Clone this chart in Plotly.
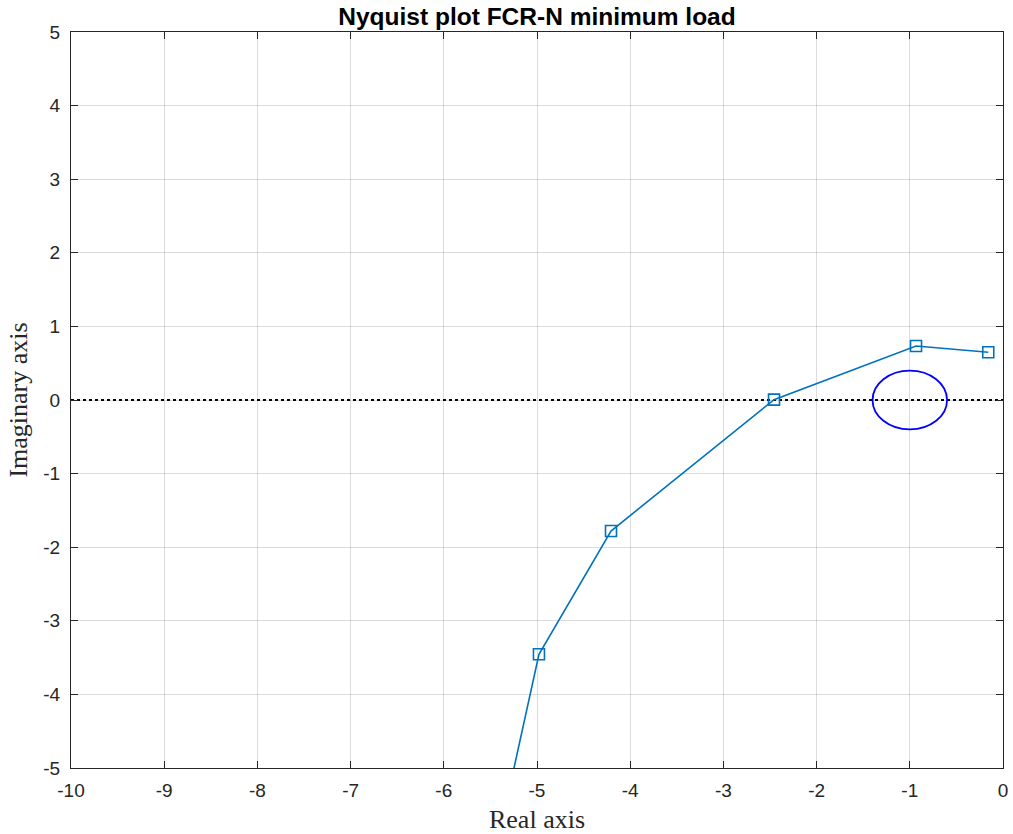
import plotly.graph_objects as go

# Nyquist locus samples (real, imaginary)
re_vals = [-0.158, -0.933, -2.457, -4.206, -4.979, -5.45]
im_vals = [0.648, 0.734, 0.005, -1.78, -3.455, -6.17]

# Unit-region circle around the critical point -1
crit_center = (-1.0, 0.0)
crit_radius = 0.4

x_ticks = list(range(-10, 1))
y_ticks = list(range(-5, 6))

fig = go.Figure()

# real axis reference line
fig.add_trace(go.Scatter(
    x=[-10, 0], y=[0, 0], mode="lines",
    line=dict(color="black", width=1.8, dash="dot"),
    showlegend=False, hoverinfo="skip"))

fig.add_trace(go.Scatter(
    x=re_vals, y=im_vals, mode="lines+markers",
    line=dict(color="#0072BD", width=1.6),
    marker=dict(symbol="square-open", size=11, color="#0072BD",
                line=dict(width=1.6, color="#0072BD")),
    showlegend=False))

fig.add_shape(type="circle", xref="x", yref="y",
              x0=crit_center[0] - crit_radius, x1=crit_center[0] + crit_radius,
              y0=crit_center[1] - crit_radius, y1=crit_center[1] + crit_radius,
              line=dict(color="#0000FF", width=1.8))

axis_common = dict(
    showgrid=True, gridcolor="rgba(38,38,38,0.16)", gridwidth=1,
    zeroline=False, showline=True, linecolor="#262626", linewidth=1.2,
    mirror="ticks", ticks="inside", ticklen=7, tickcolor="#262626",
    tickfont=dict(family="Liberation Sans, Arial", size=19, color="#262626"),
    automargin=False,
)

fig.update_xaxes(range=[-10, 0], tickvals=x_ticks,
                 ticktext=[str(v) for v in x_ticks],
                 ticklabelstandoff=5,
                 title=dict(text="Real axis", standoff=12,
                            font=dict(family="Liberation Serif, Times New Roman",
                                      size=26, color="#262626")),
                 **axis_common)
fig.update_yaxes(range=[-5, 5], tickvals=y_ticks,
                 ticktext=[str(v) for v in y_ticks],
                 ticklabelstandoff=6,
                 title=dict(text="Imaginary axis", standoff=8,
                            font=dict(family="Liberation Serif, Times New Roman",
                                      size=26, color="#262626")),
                 **axis_common)

fig.update_layout(
    width=1013, height=834,
    margin=dict(l=71, r=10, t=32, b=66),
    paper_bgcolor="white", plot_bgcolor="white",
    title=dict(text="<b>Nyquist plot FCR-N minimum load</b>",
               x=0.5, xanchor="center", xref="paper", y=0.98, yanchor="middle",
               font=dict(family="Liberation Sans, Arial", size=24.5, color="black")),
)

fig.write_html("out.html")
